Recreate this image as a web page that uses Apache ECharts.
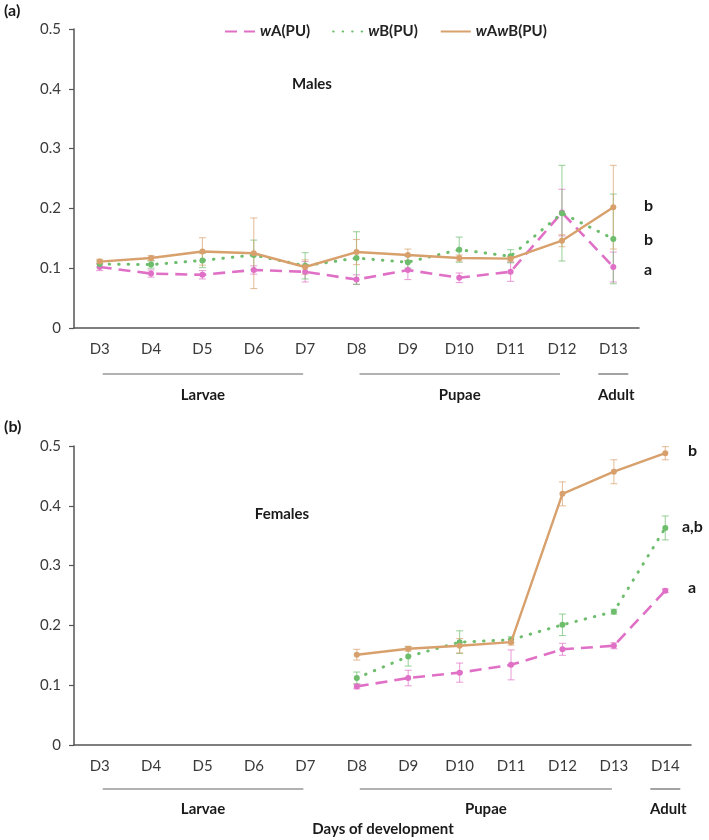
<!DOCTYPE html>
<html><head><meta charset="utf-8">
<script src="https://cdn.jsdelivr.net/npm/echarts@6/dist/echarts.min.js"></script>
<style>html,body{margin:0;padding:0;background:#fff}#c{width:709px;height:840px}</style>
</head><body><div id="c"></div>
<script>
// ---- data ----
const daysTop = ['D3','D4','D5','D6','D7','D8','D9','D10','D11','D12','D13'];
const daysBottom = ['D3','D4','D5','D6','D7','D8','D9','D10','D11','D12','D13','D14'];
const yTicks = [0, 0.1, 0.2, 0.3, 0.4, 0.5];

const malesWA      = [0.102,0.091,0.089,0.097,0.094,0.081,0.097,0.084,0.094,0.193,0.102];
const malesWAErr   = [0.006,0.006,0.007,0.007,0.017,0.008,0.016,0.008,0.016,0.039,0.025];
const malesWB      = [0.107,0.106,0.113,0.122,0.104,0.117,0.110,0.131,0.120,0.192,0.149];
const malesWBErr   = [0.005,0.006,0.012,0.025,0.022,0.044,0.010,0.021,0.011,0.080,0.075];
const malesWAWB    = [0.111,0.117,0.128,0.125,0.102,0.127,0.122,0.117,0.116,0.146,0.202];
const malesWAWBErr = [0.004,0.004,0.023,0.059,0.012,0.021,0.010,0.005,0.004,0.010,0.070];

const femalesWA      = [null,null,null,null,null,0.098,0.112,0.121,0.134,0.160,0.166,0.258];
const femalesWAErr   = [null,null,null,null,null,0.004,0.013,0.016,0.025,0.010,0.005,0.003];
const femalesWB      = [null,null,null,null,null,0.112,0.148,0.172,0.176,0.201,0.223,0.363];
const femalesWBErr   = [null,null,null,null,null,0.010,0.016,0.019,0.005,0.018,0.004,0.020];
const femalesWAWB    = [null,null,null,null,null,0.151,0.161,0.166,0.172,0.420,0.457,0.488];
const femalesWAWBErr = [null,null,null,null,null,0.009,0.004,0.012,0.005,0.020,0.020,0.011];

const seriesNames = ['wA(PU)','wB(PU)','wAwB(PU)'];
const lettersTop = ['b','b','a'];
const lettersBottom = ['b','a,b','a'];
const stageNames = ['Larvae','Pupae','Adult'];

// ---- style ----
const FONT = 'Lato, "Open Sans", sans-serif';
const C_PINK = '#e070c6', C_GREEN = '#6dbd6d', C_ORANGE = '#d8a06c';
const colors = [C_PINK, C_GREEN, C_ORANGE];
const AXIS = '#555555', TXT = '#3a3a3a';

const chart = echarts.init(document.getElementById('c'), null, {renderer:'canvas'});

function lineStyleFor(i){
  if (i===0) return {color:C_PINK, width:2.6, type:[12,7]};
  if (i===1) return {color:C_GREEN, width:3, type:[0.5,9], cap:'round'};
  return {color:C_ORANGE, width:2.4, type:'solid'};
}
function lineSeries(i, data, gi){
  return {
    name: seriesNames[i], type:'line', xAxisIndex:gi, yAxisIndex:gi,
    data: data, symbol:'circle', symbolSize:6, connectNulls:false,
    itemStyle:{color:colors[i]}, lineStyle: lineStyleFor(i), z: 3 + i
  };
}
function errSeries(i, vals, errs, gi){
  const data = [];
  vals.forEach((v,k)=>{ if (v!=null) data.push([k, v - errs[k], v + errs[k]]); });
  return {
    name: 'err'+i+'_'+gi, type:'custom', xAxisIndex:gi, yAxisIndex:gi, z: 2,
    data: data, silent:true,
    renderItem: function(params, api){
      const x = api.value(0);
      const lo = api.coord([x, api.value(1)]);
      const hi = api.coord([x, api.value(2)]);
      const w = 3.5;
      const st = {stroke: colors[i], lineWidth: 1.1, opacity: 0.65};
      return {type:'group', children:[
        {type:'line', shape:{x1:lo[0],y1:lo[1],x2:hi[0],y2:hi[1]}, style:st},
        {type:'line', shape:{x1:lo[0]-w,y1:lo[1],x2:lo[0]+w,y2:lo[1]}, style:st},
        {type:'line', shape:{x1:hi[0]-w,y1:hi[1],x2:hi[0]+w,y2:hi[1]}, style:st}
      ]};
    }
  };
}
function yAxisFor(gi){
  return {
    type:'value', gridIndex:gi, min:yTicks[0], max:yTicks[yTicks.length-1], interval:0.1,
    axisLine:{show:true, lineStyle:{color:AXIS, width:1.5}},
    axisTick:{show:true, length:5, lineStyle:{color:AXIS, width:1.2}},
    splitLine:{show:false},
    axisLabel:{fontSize:15, color:TXT, fontFamily:FONT, margin:13,
      formatter: v => (Math.abs(v) < 1e-9 ? '0' : v.toFixed(1))}
  };
}
function xAxisFor(gi, cats){
  return {
    type:'category', gridIndex:gi, data:cats, boundaryGap:true,
    axisLine:{show:true, lineStyle:{color:AXIS, width:1.5}},
    axisTick:{show:false},
    axisLabel:{fontSize:15, color:TXT, fontFamily:FONT, margin:14, interval:0}
  };
}

const option = {
  animation:false,
  backgroundColor:'#fff',
  grid:[
    {left:74, top:29, width:565, height:299},
    {left:74, top:446, width:617, height:299}
  ],
  xAxis:[xAxisFor(0, daysTop), xAxisFor(1, daysBottom)],
  yAxis:[yAxisFor(0), yAxisFor(1)],
  legend:{
    data: seriesNames, left:219, top:19, itemWidth:30, itemHeight:12, itemGap:22,
    itemStyle:{opacity:0},
    textStyle:{fontSize:15, fontWeight:'bold', color:'#222', fontFamily:FONT,
      rich:{i:{fontSize:15, fontWeight:'bold', fontStyle:'italic', color:'#222', fontFamily:FONT}}},
    formatter: name => name.replace(/w/g, '{i|w}')
  },
  series:[
    errSeries(0, malesWA, malesWAErr, 0),
    errSeries(1, malesWB, malesWBErr, 0),
    errSeries(2, malesWAWB, malesWAWBErr, 0),
    lineSeries(0, malesWA, 0), lineSeries(1, malesWB, 0), lineSeries(2, malesWAWB, 0),
    errSeries(0, femalesWA, femalesWAErr, 1),
    errSeries(1, femalesWB, femalesWBErr, 1),
    errSeries(2, femalesWAWB, femalesWAWBErr, 1),
    lineSeries(0, femalesWA, 1), lineSeries(1, femalesWB, 1), lineSeries(2, femalesWAWB, 1)
  ]
};
chart.setOption(option);

// ---- annotations computed from the axes ----
function px(gi, cat){ return chart.convertToPixel({xAxisIndex:gi}, cat); }
function txt(x, y, s, opts){
  return Object.assign({type:'text', x:x, y:y, silent:true,
    style:Object.assign({text:s, fontFamily:FONT, fontSize:15, fontWeight:'bold', fill:'#1a1a1a',
      textAlign:'center', textVerticalAlign:'middle'}, (opts&&opts.style)||{})},
    (opts&&opts.el)||{});
}
function hline(x1, x2, y){
  return {type:'line', silent:true, shape:{x1:x1, y1:y, x2:x2, y2:y}, style:{stroke:'#666', lineWidth:1.2}};
}
function stageGroup(gi, cats, lineY, labelY){
  const n = cats.length;
  const spans = [[cats[0], cats[4]], [cats[5], cats[n-2]], [cats[n-1], cats[n-1]]];
  const els = [];
  spans.forEach((sp, k)=>{
    let a = px(gi, sp[0]), b = px(gi, sp[1]);
    if (k===2) { a -= 15; b += 15; } else { a += 3; b -= 2; }
    els.push(hline(a, b, lineY));
    els.push(txt((a+b)/2 + (k===2?3:0), labelY, stageNames[k]));
  });
  return els;
}
const g = [];
g.push(txt(4, 11, '(a)', {style:{textAlign:'left', fontSize:16}}));
g.push(txt(4, 427, '(b)', {style:{textAlign:'left', fontSize:16}}));
g.push(txt(312, 84, 'Males'));
g.push(txt(282, 514, 'Females'));
g.push(txt(33, 178, '1/ΔCq', {el:{rotation:Math.PI/2, originX:33, originY:178}}));
g.push(txt(33, 592, '1/ΔCq', {el:{rotation:Math.PI/2, originX:33, originY:592}}));
g.push(txt(644, 206, lettersTop[0], {style:{textAlign:'left', fontSize:16}}));
g.push(txt(644, 240, lettersTop[1], {style:{textAlign:'left', fontSize:16}}));
g.push(txt(644, 270, lettersTop[2], {style:{textAlign:'left', fontSize:16}}));
g.push(txt(688, 451, lettersBottom[0], {style:{textAlign:'left', fontSize:16}}));
g.push(txt(682, 527, lettersBottom[1], {style:{textAlign:'left', fontSize:16}}));
g.push(txt(688, 588, lettersBottom[2], {style:{textAlign:'left', fontSize:16}}));
stageGroup(0, daysTop, 374, 395).forEach(e=>g.push(e));
stageGroup(1, daysBottom, 789, 809).forEach(e=>g.push(e));
g.push(txt(383, 829, 'Days of development'));
chart.setOption({graphic: g});
</script></body></html>
